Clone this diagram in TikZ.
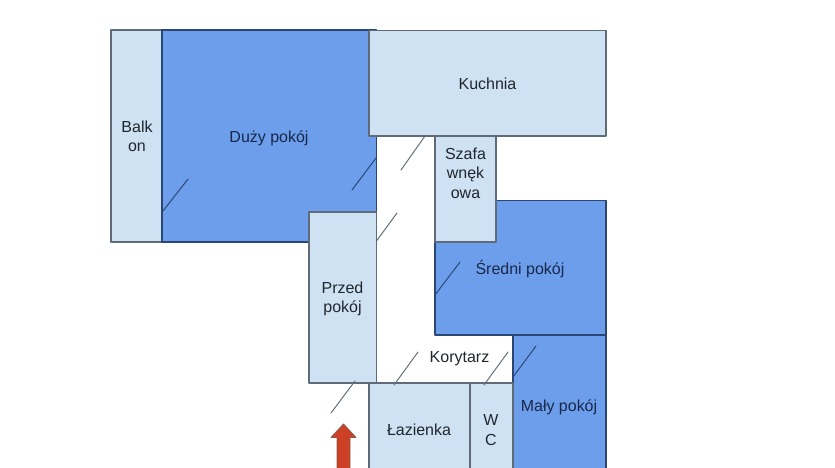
\documentclass[tikz,border=0pt]{standalone}
\usepackage{fontspec}
\setmainfont{Liberation Sans}
\definecolor{roomblue}{HTML}{6D9EEB}
\definecolor{roomlight}{HTML}{CFE2F3}
\definecolor{wallblue}{HTML}{2A4674}
\definecolor{wallgray}{HTML}{5F6B78}
\definecolor{arrowred}{HTML}{CC4125}
\definecolor{arrowedge}{HTML}{8F5A4C}
\definecolor{inkblue}{HTML}{17284A}
\definecolor{inkdark}{HTML}{20262E}
\tikzset{
  bigroom/.style={fill=roomblue,draw=wallblue,line width=0.6pt},
  smallroom/.style={fill=roomlight,draw=wallgray,line width=0.6pt},
  doorblue/.style={draw=wallblue,line width=0.55pt},
  doorgray/.style={draw=wallgray,line width=0.55pt},
  bigname/.style={align=center,inner sep=0pt,text=inkblue,font=\fontsize{9.1}{11}\selectfont},
  smallname/.style={align=center,inner sep=0pt,text=inkdark,font=\fontsize{9.1}{11}\selectfont}
}
\begin{document}
\begin{tikzpicture}[line cap=round,line join=round,x=0.02cm,y=-0.02cm]
        \useasboundingbox (0,0) rectangle (835,467);
        \clip (0,0) rectangle (835,467);
        % rooms
        \draw [smallroom] (111,30) rectangle (162,242);
        \draw [bigroom] (162,30) rectangle (376.5,242);
        \draw [bigroom] (435,200.5) rectangle (606,335);
        \draw [bigroom] (513,335) rectangle (606,480);
        \draw [smallroom] (369,30.5) rectangle (606,136);
        \draw [smallroom] (435,136) rectangle (496,242);
        \draw [smallroom] (309,212) rectangle (376.5,383);
        \draw [smallroom] (369,383) rectangle (470,480);
        \draw [smallroom] (470,383) rectangle (513,480);
        % doors
        \draw [doorblue] (163,211) -- (188,179);
        \draw [doorblue] (352,190) -- (376,158);
        \draw [doorgray] (401,170) -- (425,136);
        \draw [doorgray] (376.5,241) -- (397,213);
        \draw [doorblue] (435,295) -- (460,262);
        \draw [doorgray] (394,385) -- (418,352);
        \draw [doorgray] (484,385) -- (508,352);
        \draw [doorblue] (513,377) -- (536,346);
        \draw [doorgray] (331,413) -- (355,381);
        % entrance
        \draw [fill=arrowred,draw=arrowedge,line width=0.5pt] (343.5,424) -- (356,437.5) -- (350,437.5) -- (350,480) -- (337,480) -- (337,437.5) -- (331,437.5) -- cycle;
        % names
        \node [smallname] (balkon) at (137,136.5) {Balk\\on};
        \node [bigname] (duzy) at (269,138) {Duży pokój};
        \node [smallname] (kuchnia) at (487.5,84) {Kuchnia};
        \node [smallname] (szafa) at (465.5,173) {Szafa\\wnęk\\owa};
        \node [bigname] (sredni) at (520,268.5) {Średni pokój};
        \node [smallname] (przed) at (342.5,299) {Przed\\pokój};
        \node [smallname] (korytarz) at (459.5,358.5) {Korytarz};
        \node [smallname] (lazienka) at (419,430) {Łazienka};
        \node [smallname] (wc) at (491,430) {W\\C};
        \node [bigname] (maly) at (559,407) {Mały pokój};
      \end{tikzpicture}
\end{document}
